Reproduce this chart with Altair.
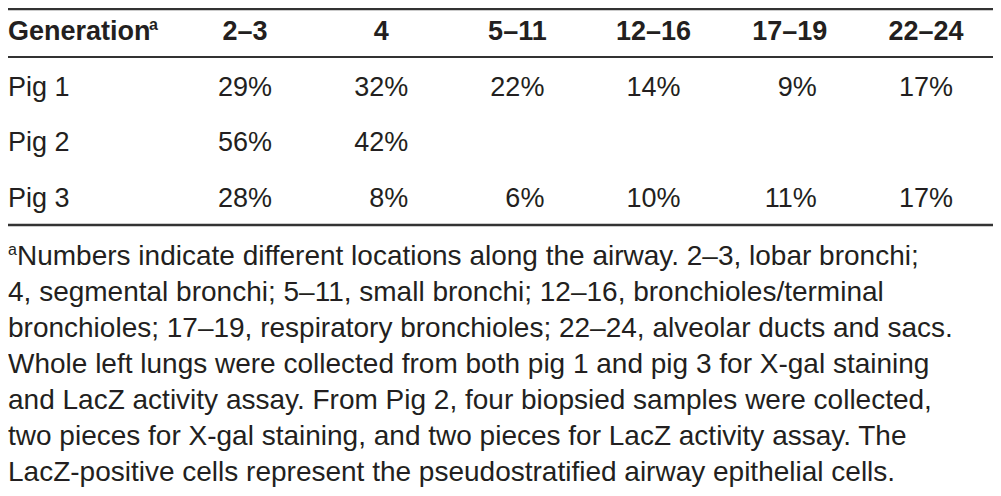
import altair as alt
import pandas as pd

# ---- data ----
generations = ["2–3", "4", "5–11", "12–16", "17–19", "22–24"]
pigs = ["Pig 1", "Pig 2", "Pig 3"]
pig1_values = ["29%", "32%", "22%", "14%", "9%", "17%"]
pig2_values = ["56%", "42%", "", "", "", ""]
pig3_values = ["28%", "8%", "6%", "10%", "11%", "17%"]
header_label = "Generation"
footnote_marker = "a"
footnote_lines = [
    "Numbers indicate different locations along the airway. 2–3, lobar bronchi;",
    "4, segmental bronchi; 5–11, small bronchi; 12–16, bronchioles/terminal",
    "bronchioles; 17–19, respiratory bronchioles; 22–24, alveolar ducts and sacs.",
    "Whole left lungs were collected from both pig 1 and pig 3 for X-gal staining",
    "and LacZ activity assay. From Pig 2, four biopsied samples were collected,",
    "two pieces for X-gal staining, and two pieces for LacZ activity assay. The",
    "LacZ-positive cells represent the pseudostratified airway epithelial cells.",
]

# ---- tables built from the lists ----
rows = [header_label] + pigs
cells = []
for pig, vals in zip(pigs, [pig1_values, pig2_values, pig3_values]):
    for g, v in zip(generations, vals):
        if v:
            cells.append({"row": pig, "col": g, "text": v})
cells_df = pd.DataFrame(cells)
header_df = pd.DataFrame({"row": header_label, "col": generations})
labels_df = pd.DataFrame({"row": pigs})
gen_df = pd.DataFrame({"row": [header_label], "label": [header_label], "sup": [footnote_marker]})
foot_df = pd.DataFrame({"line": list(range(len(footnote_lines))), "text": footnote_lines})
foot_sup_df = pd.DataFrame({"line": [0], "text": [footnote_marker]})

FONT = "Liberation Sans"
INK = "#231f20"
W, H = 985, 480


def row_y():
    return alt.Y("row:N", scale=alt.Scale(type="point", domain=rows, range=[32, 199], padding=0), axis=None)


xcol = alt.X("col:N", scale=alt.Scale(type="point", domain=generations, range=[264, 945], padding=0), axis=None)

cells_layer = alt.Chart(cells_df).mark_text(
    align="right", baseline="alphabetic", font=FONT, fontSize=27, color=INK
).encode(x=xcol, y=row_y(), text="text:N")

header_layer = alt.Chart(header_df).mark_text(
    align="center", baseline="alphabetic", font=FONT, fontSize=27, fontWeight="bold", color=INK, dx=-27
).encode(x=xcol, y=row_y(), text="col:N")

labels_layer = alt.Chart(labels_df).mark_text(
    align="left", baseline="alphabetic", font=FONT, fontSize=27, color=INK
).encode(x=alt.value(0), y=row_y(), text="row:N")

gen_layer = alt.Chart(gen_df).mark_text(
    align="left", baseline="alphabetic", font=FONT, fontSize=27, fontWeight="bold", color=INK
).encode(x=alt.value(0), y=row_y(), text="label:N")

gen_sup_layer = alt.Chart(gen_df).mark_text(
    align="left", baseline="alphabetic", font=FONT, fontSize=16, fontWeight="bold", color=INK, dx=141, dy=-10
).encode(x=alt.value(0), y=row_y(), text="sup:N")

top_rule = alt.Chart(gen_df).mark_rule(color="#333", strokeWidth=2.5, yOffset=-31).encode(
    x=alt.value(0), x2=alt.value(W), y=row_y()
)
mid_rule = alt.Chart(gen_df).mark_rule(color="#333", strokeWidth=2, yOffset=17).encode(
    x=alt.value(0), x2=alt.value(W), y=row_y()
)
bottom_rule = alt.Chart(pd.DataFrame({"row": [pigs[-1]]})).mark_rule(color="#333", strokeWidth=2.5, yOffset=18).encode(
    x=alt.value(0), x2=alt.value(W), y=row_y()
)

table = alt.layer(top_rule, mid_rule, bottom_rule, header_layer, gen_layer, gen_sup_layer, labels_layer, cells_layer)

yline = alt.Y("line:O", scale=alt.Scale(type="point", domain=list(range(len(footnote_lines))), range=[257, 473], padding=0), axis=None)

foot_first = alt.Chart(foot_df).transform_filter("datum.line == 0").mark_text(
    align="left", baseline="alphabetic", font=FONT, fontSize=28, color=INK, dx=9
).encode(x=alt.value(0), y=yline, text="text:N")
foot_rest = alt.Chart(foot_df).transform_filter("datum.line > 0").mark_text(
    align="left", baseline="alphabetic", font=FONT, fontSize=28, color=INK
).encode(x=alt.value(0), y=yline, text="text:N")
foot_sup = alt.Chart(foot_sup_df).mark_text(
    align="left", baseline="alphabetic", font=FONT, fontSize=16, color=INK, dy=-10
).encode(x=alt.value(0), y=yline, text="text:N")

foot = alt.layer(foot_first, foot_rest, foot_sup)

chart = alt.layer(table, foot).resolve_scale(y="independent").properties(
    width=W, height=H, autosize=alt.AutoSizeParams(type="none"), padding=0, background="white"
).configure_view(stroke=None)

chart.save("out.html", embed_options={"renderer": "svg", "actions": False})
